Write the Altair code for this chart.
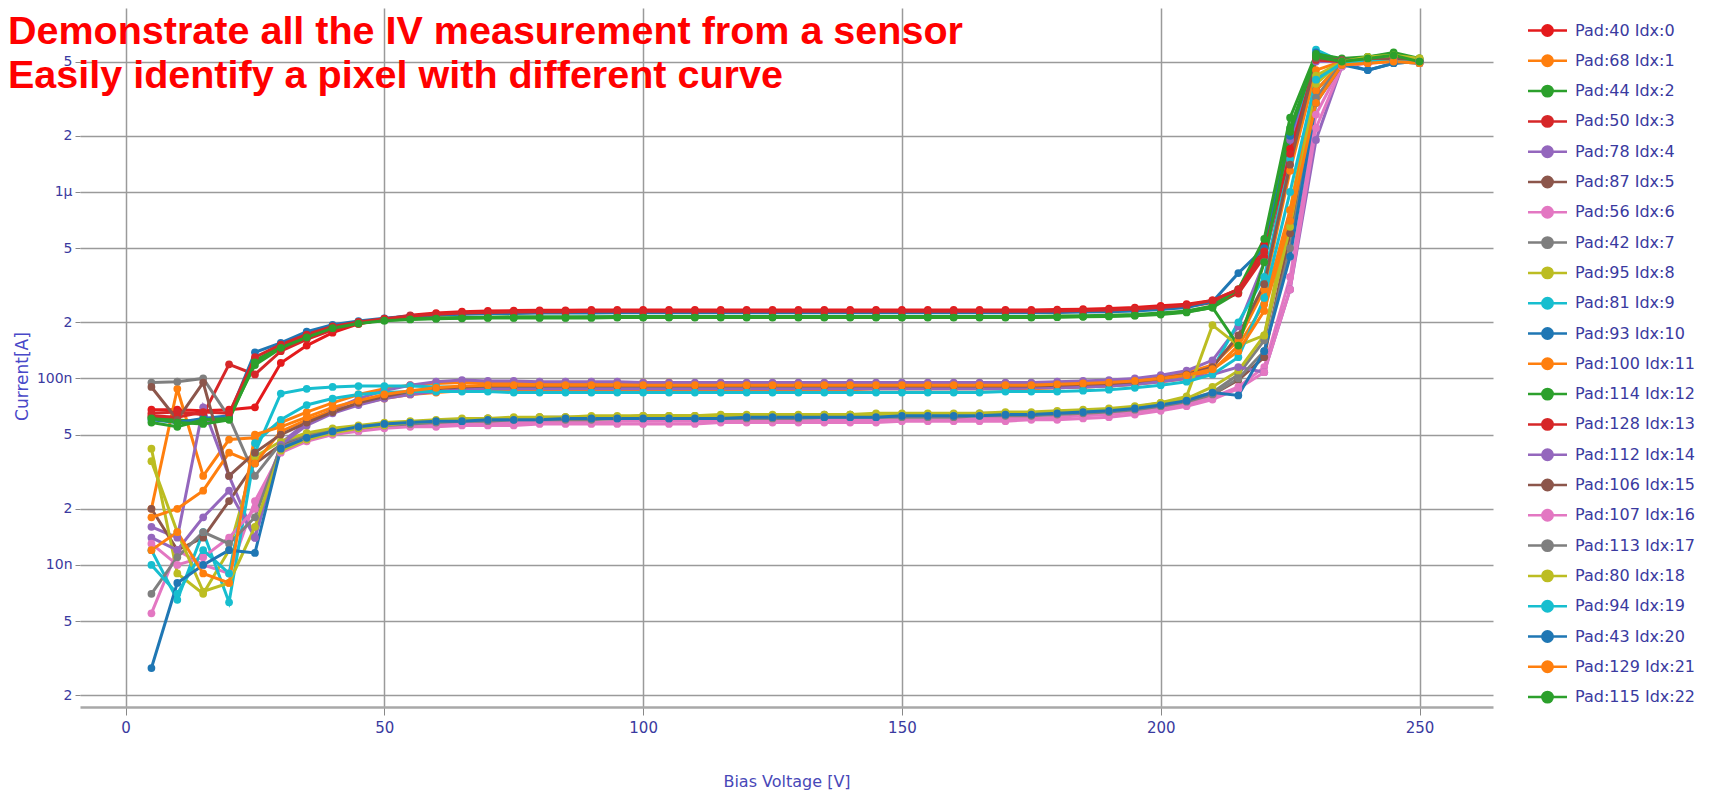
import altair as alt
import pandas as pd

voltage = [5, 10, 15, 20, 25, 30, 35, 40, 45, 50,
           55, 60, 65, 70, 75, 80, 85, 90, 95, 100,
           105, 110, 115, 120, 125, 130, 135, 140, 145, 150,
           155, 160, 165, 170, 175, 180, 185, 190, 195, 200,
           205, 210, 215, 220, 225, 230, 235, 240, 245, 250]

pad_labels = ["Pad:40 Idx:0", "Pad:68 Idx:1", "Pad:44 Idx:2", "Pad:50 Idx:3",
              "Pad:78 Idx:4", "Pad:87 Idx:5", "Pad:56 Idx:6", "Pad:42 Idx:7",
              "Pad:95 Idx:8", "Pad:81 Idx:9", "Pad:93 Idx:10", "Pad:100 Idx:11",
              "Pad:114 Idx:12", "Pad:128 Idx:13", "Pad:112 Idx:14", "Pad:106 Idx:15",
              "Pad:107 Idx:16", "Pad:113 Idx:17", "Pad:80 Idx:18", "Pad:94 Idx:19",
              "Pad:43 Idx:20", "Pad:129 Idx:21", "Pad:115 Idx:22"]

colors = ["#e41a1c", "#ff7f0e", "#2ca02c", "#d62728", "#9467bd", "#8c564b",
          "#e377c2", "#7f7f7f", "#bcbd22", "#17becf", "#1f77b4", "#ff7f0e",
          "#2ca02c", "#d62728", "#9467bd", "#8c564b", "#e377c2", "#7f7f7f",
          "#bcbd22", "#17becf", "#1f77b4", "#ff7f0e", "#2ca02c"]

# currents in nA, one value per voltage step
s00 = [68, 68, 67, 68, 70, 121, 150, 176, 196, 208, 218, 224, 228, 230, 231, 232, 232, 233, 233, 233,
       233, 233, 233, 233, 233, 233, 233, 233, 233, 233, 233, 233, 233, 233, 233, 234, 235, 237, 240, 245,
       250, 262, 300, 520, 1700, 5300, 5000, 5100, 5200, 5000]
s01 = [20, 88, 30, 47, 48, 58, 66, 74, 82, 88, 92, 94, 95, 95, 95, 95, 95, 95, 95, 95,
       95, 94, 94, 94, 94, 94, 94, 94, 94, 94, 94, 94, 94, 94, 94, 94, 95, 96, 98, 102,
       107, 118, 160, 300, 1300, 4500, 5000, 5200, 5300, 5100]
s02 = [62, 60, 58, 62, 118, 145, 165, 185, 198, 205, 208, 210, 211, 212, 212, 212, 212, 213, 213, 213,
       213, 213, 213, 213, 213, 213, 213, 213, 213, 213, 213, 213, 213, 213, 213, 214, 215, 216, 218, 222,
       228, 240, 290, 480, 2200, 5400, 5100, 5300, 5500, 5100]
s03 = [65, 66, 64, 119, 105, 140, 162, 182, 197, 207, 214, 219, 222, 224, 225, 226, 226, 227, 227, 227,
       227, 227, 227, 227, 227, 227, 227, 227, 227, 227, 227, 227, 227, 227, 227, 228, 229, 230, 233, 237,
       242, 255, 285, 450, 1500, 5200, 5000, 4900, 5100, 5000]
s04 = [16, 14, 70, 30, 14, 45, 58, 68, 78, 86, 92, 96, 98, 97, 97, 96, 96, 96, 96, 95,
       95, 95, 95, 95, 95, 95, 95, 95, 95, 95, 95, 95, 95, 95, 95, 96, 97, 98, 100, 104,
       110, 125, 190, 420, 1900, 5000, 5000, 5100, 5200, 5100]
s05 = [20, 12, 14, 22, 35, 44, 49, 52, 55, 57, 58, 59, 60, 60, 61, 61, 61, 62, 62, 62,
       62, 62, 62, 62, 63, 63, 63, 63, 63, 63, 63, 64, 64, 64, 64, 65, 66, 67, 69, 72,
       76, 82, 98, 130, 600, 3500, 4900, 5000, 5100, 5000]
s06 = [5.5, 12, 10, 9, 22, 40, 46, 50, 53, 55, 56, 57, 57, 58, 58, 58, 58, 58, 59, 59,
       59, 59, 59, 59, 59, 59, 60, 60, 60, 60, 60, 60, 61, 61, 61, 62, 63, 64, 66, 69,
       73, 79, 90, 115, 350, 2600, 4800, 5000, 5000, 4900]
s07 = [95, 96, 100, 62, 30, 45, 50, 53, 55, 57, 58, 59, 60, 61, 61, 62, 62, 62, 62, 63,
       63, 63, 63, 63, 63, 63, 64, 64, 64, 64, 64, 64, 65, 65, 65, 66, 67, 68, 70, 73,
       77, 84, 105, 160, 700, 4000, 5000, 5100, 5100, 5000]
s08 = [42, 9, 7, 12, 38, 46, 51, 54, 56, 58, 59, 60, 61, 61, 62, 62, 62, 63, 63, 63,
       63, 63, 64, 64, 64, 64, 64, 64, 65, 65, 65, 65, 65, 66, 66, 67, 68, 69, 71, 74,
       78, 90, 110, 170, 800, 4200, 5000, 5200, 5300, 5200]
s09 = [12, 6.5, 15, 6.3, 40, 83, 88, 90, 91, 91, 91, 90, 90, 89, 89, 89, 88, 88, 88, 88,
       88, 88, 88, 88, 88, 88, 88, 88, 88, 88, 88, 88, 88, 88, 89, 89, 90, 91, 93, 97,
       102, 112, 200, 350, 1500, 5800, 5000, 5000, 5100, 5000]
s10 = [60, 58, 61, 63, 138, 155, 178, 194, 203, 210, 216, 219, 221, 222, 223, 224, 224, 224, 225, 225,
       225, 225, 225, 225, 225, 225, 225, 225, 225, 225, 225, 225, 225, 225, 225, 226, 227, 228, 230, 234,
       240, 258, 367, 500, 2000, 5600, 4900, 4500, 4900, 5000]
s11 = [18, 20, 25, 40, 35, 52, 60, 67, 73, 78, 82, 84, 86, 87, 87, 87, 87, 87, 87, 87,
       87, 87, 87, 87, 87, 87, 87, 87, 88, 88, 88, 88, 88, 88, 88, 89, 90, 91, 93, 96,
       100, 110, 150, 250, 800, 3500, 4900, 5000, 5100, 5000]
s12 = [58, 55, 60, 61, 125, 148, 168, 188, 199, 206, 209, 211, 212, 213, 214, 214, 214, 214, 215, 215,
       215, 215, 215, 215, 215, 215, 215, 215, 215, 215, 215, 215, 215, 215, 215, 216, 217, 218, 220, 224,
       230, 245, 300, 560, 2500, 5500, 5200, 5300, 5600, 5200]
s13 = [63, 62, 66, 65, 130, 152, 172, 190, 201, 209, 216, 221, 224, 226, 227, 228, 228, 229, 229, 229,
       229, 229, 229, 229, 229, 229, 229, 229, 229, 229, 229, 229, 229, 229, 229, 230, 231, 233, 236, 240,
       246, 262, 300, 480, 1600, 5100, 5000, 5000, 5100, 4900]
s14 = [14, 12, 18, 25, 14, 44, 56, 65, 72, 78, 82, 85, 87, 88, 88, 88, 88, 88, 88, 88,
       88, 88, 88, 88, 88, 88, 88, 88, 88, 88, 88, 88, 88, 88, 89, 89, 90, 91, 93, 96,
       100, 105, 115, 108, 300, 1900, 4700, 5000, 5100, 5000]
s15 = [90, 60, 95, 30, 40, 50, 58, 66, 74, 80, 85, 88, 90, 91, 91, 91, 91, 91, 91, 91,
       91, 91, 91, 91, 91, 91, 91, 91, 91, 91, 91, 91, 91, 91, 91, 92, 93, 94, 96, 100,
       105, 115, 170, 320, 1400, 5200, 5100, 5100, 5200, 5000]
s16 = [13, 10, 11, 14, 20, 42, 47, 50, 52, 54, 55, 55, 56, 56, 56, 57, 57, 57, 57, 57,
       57, 57, 58, 58, 58, 58, 58, 58, 58, 59, 59, 59, 59, 59, 60, 60, 61, 62, 64, 67,
       71, 77, 88, 108, 300, 2200, 4700, 4900, 5000, 4900]
s17 = [7, 11, 15, 13, 18, 43, 48, 52, 54, 56, 57, 58, 59, 59, 60, 60, 60, 60, 61, 61,
       61, 61, 61, 61, 61, 61, 62, 62, 62, 62, 62, 62, 63, 63, 63, 64, 65, 66, 68, 71,
       75, 82, 100, 140, 500, 3200, 4900, 5000, 5000, 5000]
s18 = [36, 15, 7.2, 8, 16, 41, 47, 51, 54, 56, 58, 59, 60, 61, 61, 62, 62, 62, 62, 63,
       63, 63, 63, 63, 63, 63, 63, 64, 64, 64, 64, 64, 64, 65, 65, 66, 67, 68, 70, 74,
       80, 193, 150, 170, 650, 3800, 5000, 5300, 5400, 5200]
s19 = [10, 7, 12, 9, 45, 60, 72, 78, 82, 84, 85, 85, 85, 85, 84, 84, 84, 84, 84, 84,
       84, 84, 84, 84, 84, 84, 84, 84, 84, 84, 84, 84, 84, 85, 85, 85, 86, 87, 89, 92,
       96, 105, 130, 270, 1000, 4000, 4900, 5000, 5000, 4900]
s20 = [2.8, 8, 10, 12, 11.6, 42, 48, 52, 55, 57, 58, 59, 59, 60, 60, 60, 61, 61, 61, 61,
       61, 61, 61, 62, 62, 62, 62, 62, 62, 63, 63, 63, 63, 64, 64, 65, 66, 67, 69, 72,
       76, 84, 81, 140, 450, 3000, 4800, 4500, 4900, 5000]
s21 = [12, 15, 9, 8, 50, 55, 62, 70, 76, 82, 86, 89, 91, 92, 92, 92, 92, 92, 92, 92,
       92, 92, 92, 92, 92, 92, 92, 92, 92, 92, 92, 92, 92, 92, 92, 93, 94, 95, 97, 100,
       104, 112, 140, 230, 700, 3000, 4800, 4900, 5000, 4900]
s22 = [61, 58, 57, 60, 122, 146, 166, 186, 197, 204, 207, 209, 210, 211, 211, 211, 211, 211, 212, 212,
       212, 212, 212, 212, 212, 212, 212, 212, 212, 212, 212, 212, 212, 212, 212, 213, 214, 215, 217, 220,
       226, 240, 150, 420, 2100, 5300, 5000, 5200, 5400, 5000]

series = [s00, s01, s02, s03, s04, s05, s06, s07, s08, s09, s10, s11,
          s12, s13, s14, s15, s16, s17, s18, s19, s20, s21, s22]

y_ticks = [2e-9, 5e-9, 1e-8, 2e-8, 5e-8, 1e-7, 2e-7, 5e-7, 1e-6, 2e-6, 5e-6]
x_ticks = [0, 50, 100, 150, 200, 250]

title_lines = ["Demonstrate all the IV measurement from a sensor",
               "Easily identify a pixel with different curve"]

rows = []
for i, (lab, vals) in enumerate(zip(pad_labels, series)):
    for v, c in zip(voltage, vals):
        rows.append({"pad": lab, "idx": i, "voltage": v, "current": c * 1e-9})
df = pd.DataFrame(rows)

axis_blue = "#3a3aa0"
grid_gray = "#9a9a9a"

x_enc = alt.X("voltage:Q",
              scale=alt.Scale(domain=[-8.8, 264.2], nice=False, zero=False),
              axis=alt.Axis(values=x_ticks, title="Bias Voltage [V]", format="d",
                            grid=True, gridColor=grid_gray, gridWidth=1.5,
                            domain=True, domainColor="#a8a8a8", domainWidth=2.5,
                            ticks=True, tickColor="#888888", tickSize=8, tickWidth=1,
                            labelFont="DejaVu Sans", labelFontSize=15, labelColor=axis_blue,
                            labelPadding=5,
                            titleFont="DejaVu Sans", titleFontSize=16, titleFontWeight="normal",
                            titleColor="#4848b8", titleY=74, titleBaseline="middle"))

label_expr = ("abs(log(datum.value)/LN10 - round(log(datum.value)/LN10)) < 0.01 ? "
              "format(datum.value, '~s') : "
              "format(round(datum.value / pow(10, floor(log(datum.value)/LN10 + 0.000001))), 'd')")

y_enc = alt.Y("current:Q",
              scale=alt.Scale(type="log", domain=[1.73e-9, 9.69e-6], nice=False),
              axis=alt.Axis(values=y_ticks, labelExpr=label_expr, title="Current[A]",
                            grid=True, gridColor=grid_gray, gridWidth=1.5,
                            domain=False, ticks=True, tickColor="#888888", tickSize=5,
                            labelFont="DejaVu Sans", labelFontSize=14, labelColor=axis_blue,
                            labelPadding=3,
                            titleFont="DejaVu Sans", titleFontSize=17, titleFontWeight="normal",
                            titleColor="#4848c8", titleAngle=270, titleX=-58, titleY=368,
                            titleAlign="center", titleBaseline="middle"))

legend_symbol = ("M-1.5,0L1.5,0M-0.4,0A0.4,0.4,0,1,1,0.4,0A0.4,0.4,0,1,1,-0.4,0Z")

color_enc = alt.Color("pad:N", title=None,
                      scale=alt.Scale(domain=pad_labels, range=colors),
                      sort=pad_labels,
                      legend=alt.Legend(orient="none", legendX=1453, legendY=8,
                                        symbolType=legend_symbol, symbolSize=676,
                                        symbolStrokeWidth=2.5, symbolOpacity=1,
                                        labelFont="DejaVu Sans", labelFontSize=16,
                                        labelColor=axis_blue, labelOffset=13,
                                        rowPadding=5.3, padding=0, labelLimit=300))

base = alt.Chart(df)
lines = base.mark_line(strokeWidth=3, clip=True).encode(
    x=x_enc, y=y_enc, color=color_enc, detail="idx:N")
points = base.mark_circle(size=60, opacity=1, clip=True).encode(
    x=x_enc, y=y_enc, color=color_enc)

one = pd.DataFrame({"a": [0]})
txt1 = alt.Chart(one).mark_text(align="left", baseline="alphabetic", font="Liberation Sans",
                                fontWeight="bold", fontSize=39.5, color="#ff0000").encode(
    x=alt.value(-72), y=alt.value(36), text=alt.value(title_lines[0]))
txt2 = alt.Chart(one).mark_text(align="left", baseline="alphabetic", font="Liberation Sans",
                                fontWeight="bold", fontSize=39.5, color="#ff0000").encode(
    x=alt.value(-72), y=alt.value(80), text=alt.value(title_lines[1]))

chart = alt.layer(lines, points, txt1, txt2).properties(
    width=1413, height=699,
    autosize=alt.AutoSizeParams(type="none"),
    padding={"left": 72, "top": 0, "right": 209, "bottom": 90},
    background="white",
).configure_view(stroke=None)

chart.save("out.html", embed_options={"renderer": "svg", "actions": False})
